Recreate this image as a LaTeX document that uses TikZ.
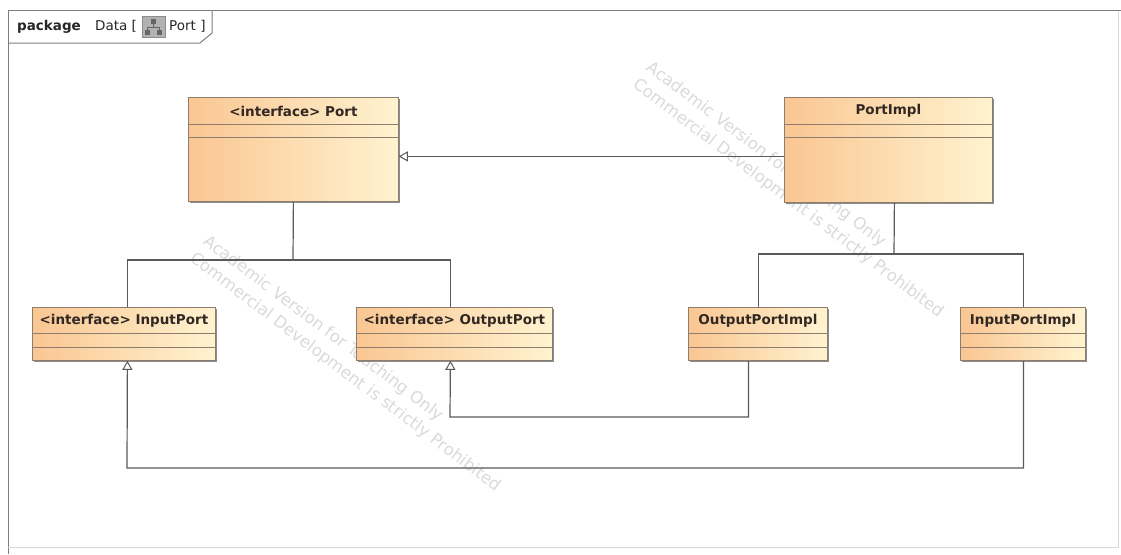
\documentclass[tikz,border=0pt]{standalone}
\usepackage{fontspec}
\setsansfont{DejaVu Sans}
\usetikzlibrary{arrows.meta,calc,shadows}

\definecolor{boxL}{RGB}{250,198,146}
\definecolor{boxR}{RGB}{255,243,208}
\definecolor{boxline}{RGB}{140,125,110}
\definecolor{wirecol}{RGB}{90,90,90}
\definecolor{ink}{RGB}{50,40,35}
\definecolor{framecol}{RGB}{125,125,125}
\definecolor{wmark}{RGB}{218,218,218}

\tikzset{
  classbox/.style={draw=boxline, line width=0.8pt, left color=boxL, right color=boxR,
    inner sep=0pt, anchor=north west,
    drop shadow={shadow xshift=2pt, shadow yshift=-2pt, fill=black!45, opacity=1}},
  classtitle/.style={font=\fontsize{13.5}{15}\sffamily\bfseries, text=ink, inner sep=0pt},
  compart/.style={draw=boxline, line width=0.8pt},
  wire/.style={draw=wirecol, line width=1.2pt},
  gen/.style={wire, -{Triangle[open, length=9pt, width=10pt, line width=1pt, fill=white]}},
  pkgtext/.style={font=\fontsize{13.5}{15}\sffamily, text=black!85, inner sep=0pt, anchor=base west},
  wmtext/.style={font=\fontsize{16.5}{22}\sffamily, text=wmark, align=left, rotate=-37},
  framepen/.style={draw=framecol, line width=1pt},
}

\begin{document}
\begin{tikzpicture}[x=1pt, y=-1pt]
  \useasboundingbox (0,0) rectangle (1121,554);
  \fill[white] (0,0) rectangle (1121,554);

  % watermark text
  \node[wmtext] (wm1) at (795,190) {Academic Version for Teaching Only\\Commercial Development is strictly Prohibited};
  \node[wmtext] (wm2) at (352,364) {Academic Version for Teaching Only\\Commercial Development is strictly Prohibited};

  % package frame and its tab
  \draw[framepen] (8,554) -- (8,10.5) -- (1121,10.5);
  \draw[draw=black!15, line width=0.8pt] (1118.5,10.5) -- (1118.5,547) -- (8,547);
  \draw[framepen] (8,43) -- (200,43) -- (212,33) -- (212,10.5);
  \node[pkgtext] (pkgkw) at (17,30) {\bfseries package};
  \node[pkgtext] (pkgname) at (95,30) {Data [};
  \node[pkgtext] (pkgview) at (169,30) {Port ]};
  % diagram-kind icon
  \filldraw[fill=black!30, draw=black!45, line width=0.6pt] (142,16) rectangle (165,37);
  \fill[black!60] (151,19) rectangle (156,24);
  \fill[black!60] (145,30) rectangle (150,35);
  \fill[black!60] (157,30) rectangle (162,35);
  \draw[black!60, line width=0.7pt] (153.5,24) -- (153.5,27) (147.5,30) -- (147.5,27) -- (159.5,27) -- (159.5,30);

  % classes
  \node[classbox, minimum width=210pt, minimum height=104pt] (port) at (188,97) {};
  \node[classbox, minimum width=208pt, minimum height=105pt] (portimpl) at (784,97) {};
  \node[classbox, minimum width=183pt, minimum height=53pt] (inputport) at (32,307) {};
  \node[classbox, minimum width=196pt, minimum height=53pt] (outputport) at (356,307) {};
  \node[classbox, minimum width=139pt, minimum height=53pt] (outputportimpl) at (688,307) {};
  \node[classbox, minimum width=125pt, minimum height=53pt] (inputportimpl) at (960,307) {};

  % compartments
  \foreach \c in {port,portimpl}{
    \draw[compart] ($(\c.north west)+(0,27)$) -- ($(\c.north east)+(0,27)$);
    \draw[compart] ($(\c.north west)+(0,40)$) -- ($(\c.north east)+(0,40)$);
  }
  \foreach \c in {inputport,outputport,outputportimpl,inputportimpl}{
    \draw[compart] ($(\c.north west)+(0,26)$) -- ($(\c.north east)+(0,26)$);
    \draw[compart] ($(\c.north west)+(0,40)$) -- ($(\c.north east)+(0,40)$);
  }

  % class names
  \node[classtitle] (porttitle) at ($(port.north)+(0,14)$) {<interface> Port};
  \node[classtitle] (portimpltitle) at ($(portimpl.north)+(0,14)$) {PortImpl};
  \node[classtitle] (inputporttitle) at ($(inputport.north)+(0,14)$) {<interface> InputPort};
  \node[classtitle] (outputporttitle) at ($(outputport.north)+(0,14)$) {<interface> OutputPort};
  \node[classtitle] (outputportimpltitle) at ($(outputportimpl.north)+(0,14)$) {OutputPortImpl};
  \node[classtitle] (inputportimpltitle) at ($(inputportimpl.north)+(0,14)$) {InputPortImpl};

  % containment trees
  \coordinate (jp) at (293,260);
  \draw[wire] (port.south) -- (jp);
  \draw[wire] ([xshift=3.5pt]inputport.north) |- (jp) -| ([xshift=-4pt]outputport.north);
  \coordinate (ji) at (894,254);
  \draw[wire] ([xshift=6pt]portimpl.south) -- (ji);
  \draw[wire] ([xshift=0.5pt]outputportimpl.north) |- (ji) -| ([xshift=0.5pt]inputportimpl.north);

  % generalizations
  \draw[gen] ([yshift=-6.5pt]portimpl.west) -- ([yshift=-6.5pt]portimpl.west -| port.east);
  \coordinate (r1) at (450,417);
  \draw[gen] ([xshift=-9.5pt]outputportimpl.south) |- (r1) -- ([xshift=-4pt]outputport.south);
  \coordinate (r2) at (127,468);
  \draw[gen] ([xshift=0.5pt]inputportimpl.south) |- (r2) -- ([xshift=3.5pt]inputport.south);
\end{tikzpicture}
\end{document}
